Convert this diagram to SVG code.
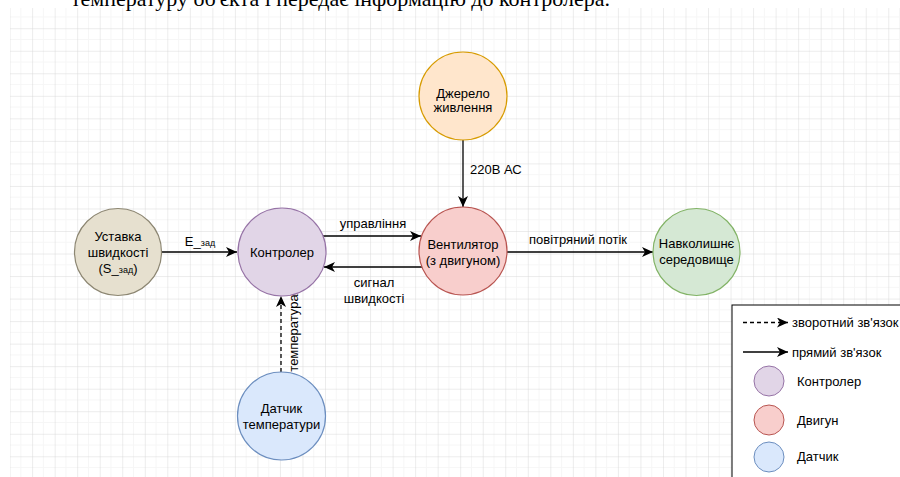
<svg xmlns="http://www.w3.org/2000/svg" width="900" height="477" viewBox="0 0 900 477">
<defs>
<pattern id="grid" patternUnits="userSpaceOnUse" x="9.6" y="5.7" width="22.53" height="22.53">
<path d="M11.26,0 V22.53 M0,11.26 H22.53" fill="none" stroke="#f6f6f6" stroke-width="1"/>
<path d="M0,0 V22.53 M0,0 H22.53" fill="none" stroke="#d9d9d9" stroke-width="1"/>
</pattern>
<marker id="arr" markerUnits="userSpaceOnUse" markerWidth="13" markerHeight="11" refX="11" refY="5" orient="auto">
<path d="M0,0 L11,5 L0,10 L3,5 Z" fill="#000"/>
</marker>
<style>
.t{font-family:"Liberation Sans",Arial,sans-serif;font-size:13px;fill:#000;text-anchor:middle}
.s{text-anchor:start}
.e{fill:none;stroke:#000;stroke-width:1.3}
.d{stroke-dasharray:4,3}
.top{font-family:"Liberation Serif","Times New Roman",serif;font-size:22px;fill:#000;text-anchor:end}
</style>
</defs>
<rect x="0" y="0" width="900" height="477" fill="#fff"/>
<rect x="10" y="8" width="890" height="469" fill="url(#grid)"/>
<text class="top" x="610" y="6">температуру об'єкта і передає інформацію до контролера.</text>

<g id="connectors">
<path class="e" d="M161,252 H237" marker-end="url(#arr)"/>
<path class="e" d="M323,236 H421" marker-end="url(#arr)"/>
<path class="e" d="M422,267 H324" marker-end="url(#arr)"/>
<path class="e" d="M463,140 V207" marker-end="url(#arr)"/>
<path class="e" d="M507,252 H653" marker-end="url(#arr)"/>
<path class="e d" d="M281,372 V296" marker-end="url(#arr)"/>
<text class="t" x="200" y="246" font-size="12">E_<tspan font-size="9">зад</tspan></text>
<text class="t" x="373" y="228">управління</text>
<text class="t" x="374" y="287">сигнал</text>
<text class="t" x="374" y="303">швидкості</text>
<text class="t s" x="470" y="174">220В АС</text>
<text class="t" x="578" y="244">повітряний потік</text>
<text class="t" transform="translate(298,333) rotate(-90)">температура</text>
</g>

<g id="ustavka">
<circle cx="118" cy="252" r="43.5" fill="#e6e0cf" stroke="#8c8672" stroke-width="1.2"/>
<text class="t" x="118" y="241">Уставка</text>
<text class="t" x="118" y="257">швидкості</text>
<text class="t" x="118" y="273">(S_<tspan font-size="9">зад</tspan>)</text>
</g>
<g id="controller">
<circle cx="282" cy="252" r="44" fill="#e1d5e7" stroke="#9673a6" stroke-width="1.2"/>
<text class="t" x="282" y="257">Контролер</text>
</g>
<g id="fan">
<circle cx="463" cy="251" r="44" fill="#f8cecc" stroke="#b85450" stroke-width="1.2"/>
<text class="t" x="463" y="248.5">Вентилятор</text>
<text class="t" x="463" y="265">(з двигуном)</text>
</g>
<g id="power">
<circle cx="463" cy="96" r="44" fill="#ffe6cc" stroke="#d79b00" stroke-width="1.2"/>
<text class="t" x="463" y="97.5">Джерело</text>
<text class="t" x="463" y="112">живлення</text>
</g>
<g id="environment">
<circle cx="696.5" cy="252" r="43.5" fill="#d5e8d4" stroke="#82b366" stroke-width="1.2"/>
<text class="t" x="696.5" y="248">Навколишнє</text>
<text class="t" x="696.5" y="264">середовище</text>
</g>
<g id="sensor">
<circle cx="281.5" cy="416" r="44" fill="#dae8fc" stroke="#6c8ebf" stroke-width="1.2"/>
<text class="t" x="281.5" y="413">Датчик</text>
<text class="t" x="281.5" y="429">температури</text>
</g>

<g id="legend">
<rect x="732" y="305" width="200" height="200" fill="#fff" stroke="#000" stroke-width="1"/>
<path class="e d" d="M743,322.5 H788" marker-end="url(#arr)"/>
<text class="t s" x="792" y="327" font-size="13.5">зворотний зв'язок</text>
<path class="e" d="M743,352 H788" marker-end="url(#arr)"/>
<text class="t s" x="792" y="357" font-size="13.5">прямий зв'язок</text>
<circle cx="769" cy="381" r="15" fill="#e1d5e7" stroke="#9673a6" stroke-width="1"/>
<text class="t s" x="797" y="385.5" font-size="11.5">Контролер</text>
<circle cx="769" cy="420" r="15" fill="#f8cecc" stroke="#b85450" stroke-width="1"/>
<text class="t s" x="797" y="424.5" font-size="11.5">Двигун</text>
<circle cx="769" cy="457" r="15" fill="#dae8fc" stroke="#6c8ebf" stroke-width="1"/>
<text class="t s" x="797" y="461" font-size="11.5">Датчик</text>
</g>
</svg>
